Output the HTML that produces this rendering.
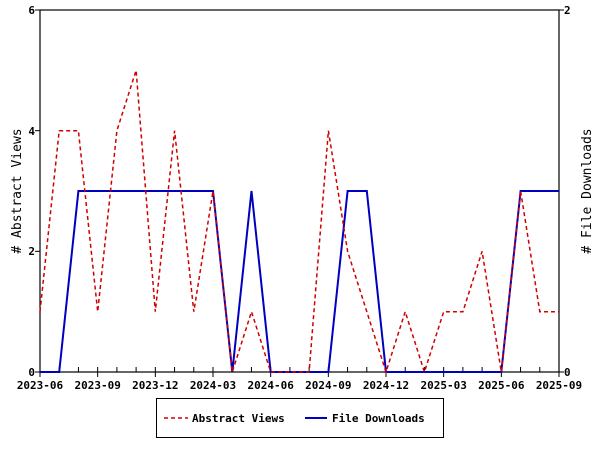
<!DOCTYPE html>
<html><head><style>body{margin:0;background:#fff}svg{display:block}text{font-family:"DejaVu Sans Mono","Liberation Mono",monospace;font-weight:bold;font-size:11px}</style></head>
<body>
<svg width="600" height="450" viewBox="0 0 600 450">
<rect x="40" y="10" width="519" height="362" fill="none" stroke="#000" stroke-width="1.2"/>
<g id="t" stroke="#000"></g>
<g id="l"></g>
<polyline fill="none" stroke="#0000c0" stroke-width="2" points="40,372 59.2,372 78.4,191 98,191 117,191 136,191 155,191 175,191 194,191 213,191 232.3,372 251.5,191 270.7,372 290,372 309,372 328.4,372 347.6,191 366.8,191 386,372 405,372 425,372 444,372 463,372 482,372 501.3,372 520.6,191 539.8,191 559,191"/>
<polyline fill="none" stroke="#d00000" stroke-width="1.5" stroke-dasharray="4,3" points="40,311.7 59.2,130.7 78.4,130.7 97.7,311.7 116.9,130.7 136.1,70.3 155.3,311.7 174.6,130.7 193.8,311.7 213,191 232.3,372 251.5,311.7 270.7,372 289.9,372 309.1,372 328.4,130.7 347.6,251.3 366.8,311.7 386,372 405.2,311.7 424.4,372 443.7,311.7 462.9,311.7 482.1,251.3 501.3,372 520.6,191 539.8,311.7 559,311.7"/>
<text x="35" y="376" text-anchor="end">0</text>
<text x="35" y="255" text-anchor="end">2</text>
<text x="35" y="135" text-anchor="end">4</text>
<text x="35" y="14" text-anchor="end">6</text>
<text x="564" y="376">0</text>
<text x="564" y="14">2</text>
<text transform="translate(21,191) rotate(-90)" text-anchor="middle" style="font-size:13px;font-weight:normal">#&#160;Abstract Views</text>
<text transform="translate(591,191) rotate(-90)" text-anchor="middle" style="font-size:13px;font-weight:normal">#&#160;File Downloads</text>
<rect x="156.5" y="398.5" width="287" height="39" fill="#fff" stroke="#000"/>
<line x1="164" y1="418" x2="188" y2="418" stroke="#d00000" stroke-width="1.5" stroke-dasharray="4,3"/>
<text x="192" y="422">Abstract Views</text>
<line x1="305" y1="418" x2="327" y2="418" stroke="#0000c0" stroke-width="2"/>
<text x="332" y="422">File Downloads</text>
</svg>
<script>
var t=document.getElementById('t'),l=document.getElementById('l'),s='',h='';
var labs=['2023-06','2023-09','2023-12','2024-03','2024-06','2024-09','2024-12','2025-03','2025-06','2025-09'];
for(var i=0;i<=27;i++){var x=40+i*519/27;s+='<line x1="'+x+'" y1="372" x2="'+x+'" y2="367"/>';if(i%3==0){s+='<line x1="'+x+'" y1="372" x2="'+x+'" y2="377"/>';h+='<text x="'+x+'" y="389" text-anchor="middle">'+labs[i/3]+'</text>';}}
for(var j=0;j<=6;j+=2){var y=372-j*362/6;s+='<line x1="35" y1="'+y+'" x2="40" y2="'+y+'"/>';}
for(var k=0;k<=2;k+=2){var y2=372-k*181;s+='<line x1="559" y1="'+y2+'" x2="564" y2="'+y2+'"/>';}
t.innerHTML=s;l.innerHTML=h;
</script>
</body></html>
